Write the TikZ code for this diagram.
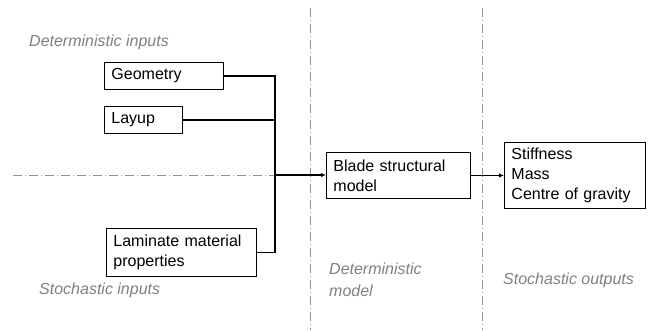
\documentclass[tikz,border=0pt]{standalone}
\usepackage{fontspec}
\setmainfont{Liberation Sans}
\usetikzlibrary{arrows.meta}
\begin{document}
\begin{tikzpicture}[x=1pt,y=-1pt,
  every node/.style={font=\fontsize{16}{20}\selectfont},
  block/.style={draw=black,line width=0.9pt,anchor=north west,align=left,
    inner xsep=7pt,inner ysep=2pt},
  region/.style={draw=gray!85,line width=0.8pt,
    dash pattern=on 9pt off 3pt on 1pt off 3pt},
  zonelabel/.style={text=gray,font=\fontsize{16}{21.5}\selectfont\itshape,
    anchor=west,inner sep=0pt,align=left},
  link/.style={draw=black,line width=1.3pt},
  arrowlink/.style={link,-{Latex[length=5pt,width=4.5pt]}}
]
\useasboundingbox (0,0) rectangle (649,330);

% region boundaries
\draw[region] (13,175) -- (312,175);
\draw[region] (310,8) -- (310,330);
\draw[region] (482,8) -- (482,330);

% region labels
\node[zonelabel] (lbldi) at (29,42) {Deterministic inputs};
\node[zonelabel] (lblsi) at (39,290) {Stochastic inputs};
\node[zonelabel] (lbldm) at (329,280) {Deterministic\\model};
\node[zonelabel] (lblso) at (503,280) {Stochastic outputs};

% blocks
\node[block,text width=105pt,minimum height=27pt] (geo) at (104,62) {Geometry};
\node[block,text width=64pt,minimum height=27pt] (lay) at (104,106) {Layup};
\node[block,text width=136pt,minimum height=48pt] (lam) at (106,228) {Laminate material\\properties};
\node[block,text width=130pt,minimum height=46pt] (blade) at (326,152) {Blade structural\\model};
\node[block,text width=127pt,minimum height=66pt] (out) at (504,142) {Stiffness\\Mass\\Centre of gravity};

% connectors
\coordinate (j) at (275,175);
\draw[link] (geo.east) -| (j);
\draw[link] (lay.east) -- (lay.east -| j);
\draw[link] (lam.east) -| (j);
\draw[arrowlink] (j) -- (blade.west |- j);
\draw[arrowlink] (blade.east) -- (out.west |- blade.east);
\end{tikzpicture}
\end{document}
